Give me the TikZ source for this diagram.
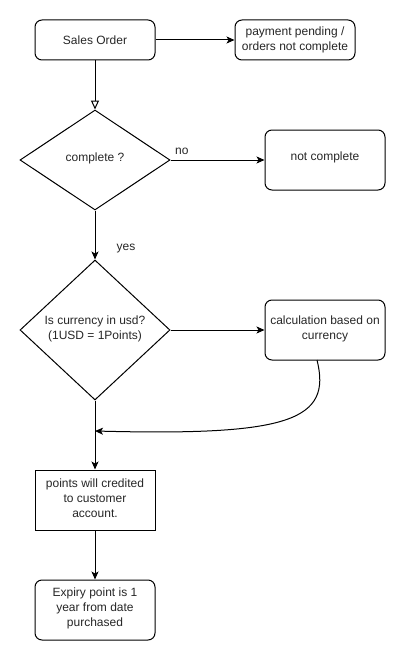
\documentclass[tikz,border=0pt]{standalone}
\usepackage{fontspec}
\setmainfont{Liberation Sans}
\usetikzlibrary{shapes.geometric,arrows.meta}
\begin{document}
\begin{tikzpicture}[x=1pt,y=-1pt,
  every node/.style={font=\fontsize{12}{15}\selectfont, text=black!85},
  rbox/.style={draw, line width=1pt, rounded corners=7pt, minimum width=120pt, align=center, inner sep=0pt},
  sbox/.style={draw, line width=1pt, minimum width=120pt, minimum height=60pt, align=center, inner sep=0pt},
  dia/.style={draw, diamond, line width=1pt, minimum width=150pt, inner sep=0pt},
  txt/.style={align=center, inner sep=0pt},
  conn/.style={line width=1pt, -{Stealth[length=8pt,width=7pt,inset=2pt]}},
  openconn/.style={line width=1pt, -{Triangle[open,length=9pt,width=8pt]}}
]
\useasboundingbox (0,0) rectangle (406,661);
\node[rbox, minimum height=40pt] (so) at (95,40) {Sales Order};
\node[rbox, minimum height=40pt] (pp) at (295,40) {payment pending /\\orders not complete};
\node[dia, minimum height=100pt] (d1) at (95,160) {};
\node[txt] (d1t) at (95,158) {complete ?};
\node[rbox, minimum height=60pt] (nc) at (325,160) {};
\node[txt] (nct) at (325,157) {not complete};
\node[dia, minimum height=140pt] (d2) at (95,330) {};
\node[txt] (d2t) at (95,329) {Is currency in usd?\\(1USD = 1Points)};
\node[rbox, minimum height=60pt] (calc) at (325,330) {};
\node[txt] (calct) at (325,329) {calculation based on\\currency};
\node[sbox] (pts) at (95,500) {};
\node[txt] (ptst) at (95,498) {points will credited\\to customer\\account.};
\node[rbox, minimum height=60pt] (exp) at (95,610) {};
\node[txt] (expt) at (95,608) {Expiry point is 1\\year from date\\purchased};
\coordinate (join) at (95,431);
\coordinate (cs) at (317,360);

\draw[conn] (so.east) -- (pp.west);
\draw[openconn] (so.south) -- (d1.north);
\draw[conn] (d1.east) -- node[txt, pos=0.12, above=5pt] (no) {no} (nc.west);
\draw[conn] (d1.south) -- (d2.north);
\node[txt] (yes) at (126,249) {yes};
\draw[conn] (d2.east) -- (calc.west);
\draw[line width=1pt] (d2.south) -- (join);
\draw[conn] (join) -- (pts.north);
\draw[conn] (cs) .. controls (332,420) and (290,436) .. (join);
\draw[conn] (pts.south) -- (exp.north);
\end{tikzpicture}
\end{document}
